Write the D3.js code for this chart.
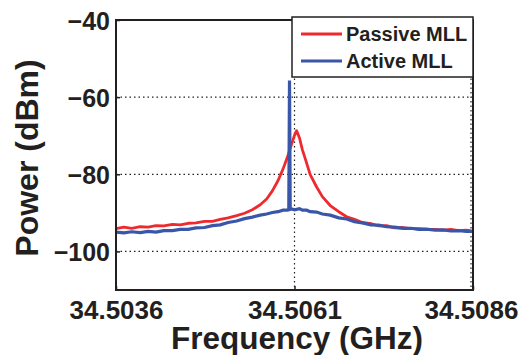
<!DOCTYPE html>
<html>
<head>
<meta charset="utf-8">
<script src="https://cdn.jsdelivr.net/npm/d3@7"></script>
<style>
  html, body { margin: 0; padding: 0; background: #fff; }
  svg { display: block; }
  text { font-family: "Liberation Sans", Arial, Helvetica, sans-serif; font-weight: bold; fill: #231f20; }
</style>
</head>
<body>
<svg id="chart" width="520" height="355"></svg>
<script>
// ---- data ----
const xTicks = [34.5036, 34.5061, 34.5086];
const xTickLabels = ["34.5036", "34.5061", "34.5086"];
const yTicks = [-40, -60, -80, -100];
const yTickLabels = ["\u221240", "\u221260", "\u221280", "\u2212100"];
const xGrid = [34.5061, 34.5086];
const yGrid = [-60, -80, -100];

const passiveFreq = [34.50360, 34.50371, 34.50382, 34.50394, 34.50405, 34.50416, 34.50427, 34.50439, 34.50450, 34.50461,
  34.50472, 34.50484, 34.50495, 34.50506, 34.50517, 34.50529, 34.50540, 34.50551, 34.50562, 34.50571,
  34.50579, 34.50587, 34.50594, 34.50600, 34.50606, 34.50610, 34.50613, 34.50617, 34.50621, 34.50627,
  34.50632, 34.50641, 34.50649, 34.50660, 34.50672, 34.50683, 34.50694, 34.50705, 34.50717, 34.50728,
  34.50739, 34.50750, 34.50762, 34.50773, 34.50784, 34.50795, 34.50807, 34.50818, 34.50829, 34.50840,
  34.50851, 34.50860];
const passivePower = [-94.1, -93.7, -94.0, -93.6, -93.7, -93.3, -93.4, -93.0, -93.1, -92.7,
  -92.6, -92.2, -92.2, -91.7, -91.3, -90.7, -90.1, -89.2, -87.9, -86.4,
  -84.3, -81.6, -78.6, -75.6, -72.1, -69.9, -68.7, -70.6, -73.6, -77.1,
  -80.1, -83.3, -85.8, -88.1, -89.7, -91.0, -91.7, -92.5, -92.8, -93.4,
  -93.3, -93.9, -93.8, -94.1, -94.1, -94.3, -94.3, -94.5, -94.3, -94.6,
  -94.5, -94.8];

const activeFreq = [34.50360, 34.50371, 34.50382, 34.50394, 34.50405, 34.50416, 34.50427, 34.50439, 34.50450, 34.50461,
  34.50472, 34.50484, 34.50495, 34.50506, 34.50517, 34.50529, 34.50540, 34.50551, 34.50562, 34.50571,
  34.50579, 34.50587, 34.50594, 34.50600, 34.50602, 34.50603, 34.50604, 34.50606, 34.50610, 34.50617,
  34.50621, 34.50627, 34.50632, 34.50641, 34.50649, 34.50660, 34.50672, 34.50683, 34.50694, 34.50705,
  34.50717, 34.50728, 34.50739, 34.50750, 34.50762, 34.50773, 34.50784, 34.50795, 34.50807, 34.50818,
  34.50829, 34.50840, 34.50851, 34.50860];
const activePower = [-95.0, -95.2, -94.9, -95.1, -94.8, -95.0, -94.6, -94.6, -94.3, -94.3,
  -93.9, -93.8, -93.3, -93.1, -92.5, -92.1, -91.5, -91.1, -90.6, -90.3,
  -89.9, -89.7, -89.3, -89.3, -89.2, -55.7, -89.1, -89.0, -89.2, -88.9,
  -89.3, -89.3, -89.7, -89.8, -90.3, -90.6, -91.3, -91.6, -92.3, -92.6,
  -93.1, -93.2, -93.6, -93.7, -94.0, -94.0, -94.3, -94.2, -94.5, -94.4,
  -94.7, -94.6, -94.8, -94.8];

const legendLabels = ["Passive MLL", "Active MLL"];
const seriesColors = ["#ee2a2e", "#3a56a8"];

// ---- layout ----
const svg = d3.select("#chart");
const L = 116, R = 473, T = 20, B = 290;

const x = d3.scaleLinear().domain([34.5036, 34.5086]).range([L, R]);
const y = d3.scaleLinear().domain([-110, -40]).range([B, T]);

// grid lines
const grid = svg.append("g");
grid.selectAll("line.h").data(yGrid).enter().append("line")
  .attr("x1", L).attr("x2", R).attr("y1", d => y(d)).attr("y2", d => y(d))
  .attr("stroke", "#222").attr("stroke-width", 1.2).attr("stroke-dasharray", "1.5,3");
grid.selectAll("line.v").data(xGrid).enter().append("line")
  .attr("y1", T).attr("y2", B).attr("x1", d => x(d) - (d === 34.5086 ? 2 : 0)).attr("x2", d => x(d) - (d === 34.5086 ? 2 : 0))
  .attr("stroke", "#222").attr("stroke-width", 1.2).attr("stroke-dasharray", "1.5,3");

// traces
const line = d3.line().x(d => x(d[0])).y(d => y(d[1]));
svg.append("path")
  .datum(d3.zip(passiveFreq, passivePower))
  .attr("d", line).attr("fill", "none")
  .attr("stroke", seriesColors[0]).attr("stroke-width", 2.8).attr("stroke-linejoin", "round");
svg.append("path")
  .datum(d3.zip(activeFreq, activePower))
  .attr("d", line).attr("fill", "none")
  .attr("stroke", seriesColors[1]).attr("stroke-width", 3.2).attr("stroke-linejoin", "miter");

// axes box
svg.append("rect").attr("x", L).attr("y", T).attr("width", R - L).attr("height", B - T)
  .attr("fill", "none").attr("stroke", "#231f20").attr("stroke-width", 2);

// y axis
const yAxis = d3.axisLeft(y).tickValues(yTicks).tickSize(-4).tickPadding(8)
  .tickFormat((d, i) => yTickLabels[i]);
const gy = svg.append("g").attr("transform", `translate(${L},0)`).call(yAxis);
gy.select(".domain").remove();
gy.selectAll(".tick line").attr("stroke", "#231f20").attr("stroke-width", 1.5);
gy.selectAll(".tick text").style("font-size", "25px").attr("x", -6).attr("dy", "0.36em");

// x axis
const xAxis = d3.axisBottom(x).tickValues(xTicks).tickSize(-4).tickPadding(12)
  .tickFormat((d, i) => xTickLabels[i]);
const gx = svg.append("g").attr("transform", `translate(0,${B})`).call(xAxis);
gx.select(".domain").remove();
gx.selectAll(".tick line").attr("stroke", "#231f20").attr("stroke-width", 1.5);
gx.selectAll(".tick text").style("font-size", "26px").attr("y", 11).attr("dy", "0.71em");
gx.selectAll(".tick").filter(d => d === 34.5086).select("text").attr("dx", -2);

// axis titles
svg.append("text").attr("x", 297).attr("y", 349).attr("text-anchor", "middle")
  .style("font-size", "31.5px").text("Frequency (GHz)");
svg.append("text").attr("transform", "translate(38,158) rotate(-90)").attr("text-anchor", "middle")
  .style("font-size", "32px").text("Power (dBm)");

// legend
const lg = svg.append("g");
lg.append("rect").attr("x", 292).attr("y", 17).attr("width", 181).attr("height", 60)
  .attr("fill", "#fff").attr("stroke", "#231f20").attr("stroke-width", 1.5);
const rows = [34, 61];
legendLabels.forEach((lab, i) => {
  lg.append("line").attr("x1", 301).attr("x2", 342).attr("y1", rows[i]).attr("y2", rows[i])
    .attr("stroke", seriesColors[i]).attr("stroke-width", 3.2);
  lg.append("text").attr("x", 346).attr("y", rows[i]).attr("dy", "0.36em")
    .style("font-size", "20px").text(lab);
});
</script>
</body>
</html>
